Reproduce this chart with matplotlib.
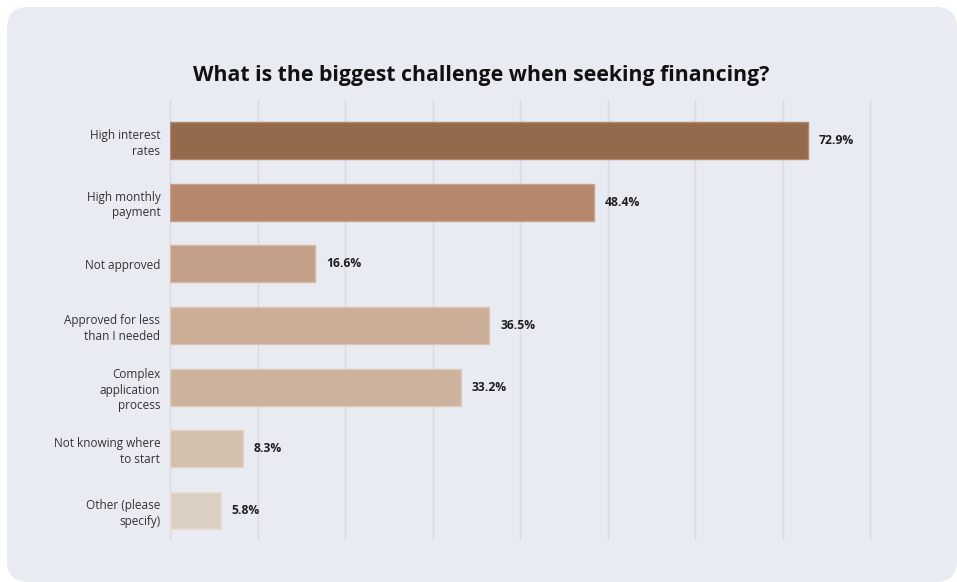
import matplotlib
matplotlib.use("Agg")
import matplotlib.pyplot as plt
from matplotlib.patches import FancyBboxPatch

categories = [
    "High interest\nrates",
    "High monthly\npayment",
    "Not approved",
    "Approved for less\nthan I needed",
    "Complex\napplication\nprocess",
    "Not knowing where\nto start",
    "Other (please\nspecify)",
]
values = [72.9, 48.4, 16.6, 36.5, 33.2, 8.3, 5.8]
bar_colors = ["#94694c", "#b5876d", "#c49f87", "#cbae98", "#cdb29e", "#d3bfae", "#dbcfc3"]
edge_colors = ["#b08a72", "#c9a28b", "#d6b8a4", "#dcc5b3", "#ddc9b8", "#e2d3c6", "#e8e0d6"]
x_ticks = [0, 10, 20, 30, 40, 50, 60, 70, 80]
title = "What is the biggest challenge when seeking financing?"

plt.rcParams["font.family"] = ["Open Sans", "DejaVu Sans"]

fig = plt.figure(figsize=(9.57, 5.82), dpi=100)
fig.patch.set_facecolor("white")

# rounded card behind the chart
card = FancyBboxPatch((7 / 957, 0.0), 950 / 957, 575 / 582,
                      boxstyle="round,pad=0,rounding_size=0.022",
                      transform=fig.transFigure, facecolor="#e8ebf2",
                      edgecolor="none", zorder=-10, mutation_aspect=957 / 582)
fig.patches.append(card)

ax = fig.add_axes([170 / 957, 1 - 539 / 582, 700 / 957, 439 / 582])
ax.set_zorder(1)
ax.set_facecolor("none")

ypos = list(range(len(categories)))
ax.barh(ypos, values, height=0.6, color=bar_colors, edgecolor=edge_colors,
        linewidth=1.0, zorder=3)

for y, v in zip(ypos, values):
    ax.annotate(f"{v}%", xy=(v, y), xytext=(8, 0), textcoords="offset points",
                ha="left", va="center", fontsize=8.7, fontweight="bold",
                color="#1f1f1f", zorder=4)

ax.set_xlim(0, 80)
ax.set_ylim(6.46, -0.657)
ax.set_xticks(x_ticks)
ax.set_xticklabels([])
ax.tick_params(axis="x", length=0)
ax.set_yticks(ypos)
ax.set_yticklabels(categories, fontsize=8.5, color="#333333", ha="right",
                   multialignment="right", linespacing=1.25)
ax.tick_params(axis="y", length=0, pad=7)
ax.grid(axis="x", color="#d9dbe1", linewidth=1, zorder=0)
for gl in ax.get_xgridlines():
    gl.set_clip_on(False)
for s in ax.spines.values():
    s.set_visible(False)

fig.text(481 / 957, 1 - 75 / 582, title, ha="center", va="center",
         fontsize=15.3, fontweight="bold", color="#111111")

fig.savefig("out.png", dpi=100, facecolor="white")
